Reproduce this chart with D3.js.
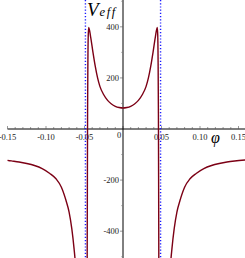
<!DOCTYPE html>
<html>
<head>
<meta charset="utf-8">
<script src="https://cdn.jsdelivr.net/npm/d3@7"></script>
<style>
  html, body { margin: 0; padding: 0; background: #fff; }
  svg { display: block; }
  text { font-family: 'Liberation Serif', 'DejaVu Serif', serif; }
</style>
</head>
<body>
<div id="chart"></div>
<script>
const width = 245;
const height = 258;

// readings
const innerPhi = [-0.0466, -0.0463, -0.046, -0.0456, -0.0451, -0.0445, -0.042, -0.039, -0.036, -0.033, -0.03, -0.025, -0.02, -0.015, -0.01, -0.005,
  0, 0.005, 0.01, 0.015, 0.02, 0.025, 0.03, 0.033, 0.036, 0.039, 0.042, 0.0445, 0.0451, 0.0456, 0.046, 0.0463, 0.0466];
const innerV = [-600, -250, 60, 260, 370, 398, 360, 300, 245, 200, 167, 134, 112, 98, 89, 84,
  82, 84, 89, 98, 112, 134, 167, 200, 245, 300, 360, 398, 370, 260, 60, -250, -600];

const leftPhi = [-0.15, -0.145, -0.135, -0.125, -0.115, -0.105, -0.095, -0.087, -0.08, -0.074, -0.07, -0.0665, -0.0635, -0.062, -0.0605];
const leftV = [-123, -125, -129, -135, -143, -155, -174, -195, -228, -280, -325, -390, -470, -520, -600];

const rightPhi = [0.0605, 0.062, 0.0635, 0.0665, 0.07, 0.074, 0.08, 0.087, 0.095, 0.105, 0.115, 0.125, 0.135, 0.145, 0.16];
const rightV = [-600, -520, -470, -390, -325, -280, -228, -195, -174, -155, -143, -135, -129, -125, -121];

const asymptotes = [-0.0488, 0.0488];

const xTicks = [-0.15, -0.1, -0.05, 0, 0.05, 0.1, 0.15];
const xTickLabels = ['-0.15', '-0.10', '-0.05', '0', '0.05', '0.10', '0.15'];
const xMinor = d3.range(-15, 16).map((i) => i / 100);
const yTicks = [-400, -200, 200, 400];
const yTickLabels = ['-400', '-200', '200', '400'];
const yMinor = [-500, -300, -100, 100, 300, 500];

const x = d3.scaleLinear().domain([-0.15, 0.15]).range([7.5, 238.5]);
const y = d3.scaleLinear().domain([-505, 505]).range([height, 0]);

const svg = d3.select('#chart').append('svg')
  .attr('width', width)
  .attr('height', height);

svg.append('defs').append('clipPath').attr('id', 'clip')
  .append('rect').attr('x', 0).attr('y', 0).attr('width', width).attr('height', height);

// x axis
const xAxis = svg.append('g').attr('transform', `translate(0,${y(0)})`);
xAxis.append('line')
  .attr('x1', x(-0.15)).attr('x2', width)
  .attr('stroke', '#000').attr('stroke-width', 1);
xAxis.selectAll('.minor').data(xMinor).join('line')
  .attr('x1', (d) => x(d)).attr('x2', (d) => x(d))
  .attr('y1', 0).attr('y2', (d) => (xTicks.some((t) => Math.abs(t - d) < 1e-9) ? -3 : -2))
  .attr('stroke', '#555').attr('stroke-width', 0.6);
xAxis.selectAll('.lab').data(xTicks).join('text')
  .attr('x', (d) => (d === 0 ? x(d) - 4 : x(d)))
  .attr('y', (d) => (d === 0 ? 9 : 11))
  .attr('text-anchor', 'middle')
  .attr('font-size', 8.5)
  .attr('fill', '#222')
  .text((d, i) => xTickLabels[i]);

// y axis
const yAxis = svg.append('g').attr('transform', `translate(${x(0)},0)`);
yAxis.append('line')
  .attr('y1', 0).attr('y2', height)
  .attr('stroke', '#000').attr('stroke-width', 1);
yAxis.selectAll('.major').data(yTicks).join('line')
  .attr('x1', -3).attr('x2', 0)
  .attr('y1', (d) => y(d)).attr('y2', (d) => y(d))
  .attr('stroke', '#555').attr('stroke-width', 0.6);
yAxis.selectAll('.minor').data(yMinor).join('line')
  .attr('x1', -2).attr('x2', 0)
  .attr('y1', (d) => y(d)).attr('y2', (d) => y(d))
  .attr('stroke', '#777').attr('stroke-width', 0.5);
yAxis.selectAll('.lab').data(yTicks).join('text')
  .attr('x', -4)
  .attr('y', (d) => y(d) + 3)
  .attr('text-anchor', 'end')
  .attr('font-size', 8.5)
  .attr('fill', '#222')
  .text((d, i) => yTickLabels[i]);

// asymptotes
svg.selectAll('.asym').data(asymptotes).join('line')
  .attr('x1', (d) => x(d)).attr('x2', (d) => x(d))
  .attr('y1', 0).attr('y2', height)
  .attr('stroke', '#1a1aff').attr('stroke-width', 1.4)
  .attr('stroke-dasharray', '1.2,2');

// curve
const line = d3.line()
  .x((d) => x(d[0]))
  .y((d) => y(d[1]))
  .curve(d3.curveMonotoneX);

const branches = [
  d3.zip(leftPhi, leftV),
  d3.zip(innerPhi, innerV),
  d3.zip(rightPhi, rightV),
];

svg.append('g').attr('clip-path', 'url(#clip)')
  .selectAll('path').data(branches).join('path')
  .attr('d', line)
  .attr('fill', 'none')
  .attr('stroke', '#7c0015')
  .attr('stroke-width', 1.4);

// labels
const vl = svg.append('text')
  .attr('x', 87).attr('y', 16)
  .attr('font-style', 'italic');
vl.append('tspan').attr('font-size', 19).text('V');
vl.append('tspan').attr('font-size', 12.5).attr('dx', 1).attr('letter-spacing', 1.5).text('eff');

svg.append('text')
  .attr('x', 211).attr('y', 143)
  .attr('font-style', 'italic')
  .attr('font-size', 16)
  .text('φ');
</script>
</body>
</html>
